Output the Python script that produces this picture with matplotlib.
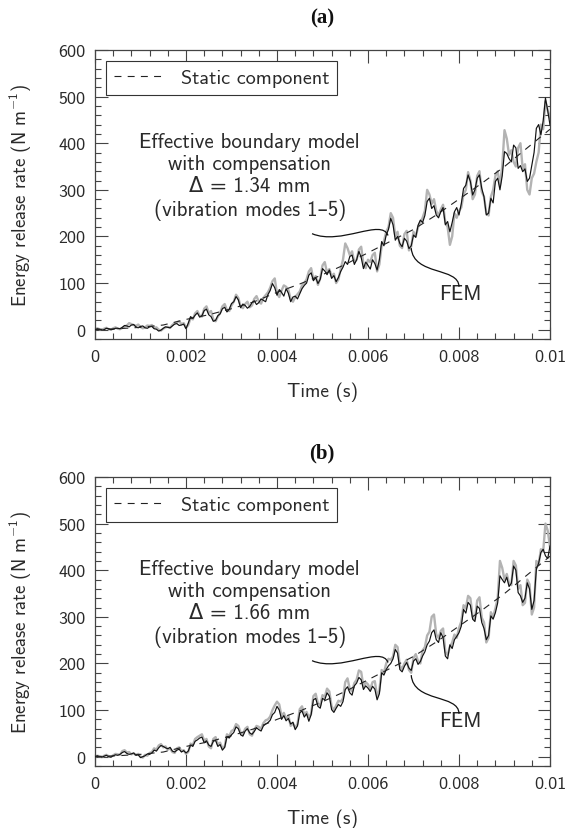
import numpy as np
import matplotlib
matplotlib.use('Agg')
from matplotlib import pyplot as plt
from matplotlib.path import Path
from matplotlib.patches import PathPatch
from matplotlib.ticker import MultipleLocator, FuncFormatter

plt.rcParams['font.family'] = ['cmss10', 'DejaVu Sans']
plt.rcParams['axes.unicode_minus'] = False
plt.rcParams['mathtext.fontset'] = 'custom'
plt.rcParams['mathtext.rm'] = 'cmss10'
plt.rcParams['mathtext.it'] = 'cmss10'
plt.rcParams['mathtext.sf'] = 'cmss10'
plt.rcParams['lines.scale_dashes'] = False

# time histories, 0 .. 0.01 s, N/m
# panel (a): effective boundary model (black) and FEM (grey)
model_a = [0, 2, 1, -1, 0, 3, 2, 0, 1, 3, 3, 2, 5, 9, 8, 6, 10, 11, 6, 4, 7, 8, 4, 3, 6, 7, 2, 1, -3, -1,
           3, 6, 5, 4, 8, 12, 13, 9, 10, 12, 2, 14, 28, 24, 31, 36, 27, 30, 41, 44, 32, 28, 18, 20, 30, 34,
           45, 48, 38, 44, 56, 60, 71, 64, 47, 55, 52, 46, 50, 58, 62, 54, 58, 66, 63, 60, 75, 84, 99, 90,
           74, 86, 80, 72, 88, 78, 60, 70, 72, 66, 77, 88, 95, 100, 117, 122, 105, 112, 99, 108, 131, 126,
           118, 128, 110, 116, 103, 112, 125, 134, 146, 140, 157, 160, 140, 150, 168, 155, 131, 145, 138,
           130, 150, 142, 128, 150, 189, 180, 203, 215, 239, 225, 192, 200, 185, 178, 196, 190, 174, 180,
           203, 198, 224, 235, 230, 245, 275, 282, 260, 266, 246, 240, 253, 262, 225, 232, 210, 230, 253,
           262, 246, 270, 303, 310, 332, 318, 289, 300, 325, 332, 303, 285, 246, 250, 282, 272, 318, 325,
           300, 330, 382, 378, 367, 360, 396, 390, 346, 352, 339, 345, 318, 325, 353, 380, 432, 440, 418,
           448, 497, 470, 439]
fem_a = [0, 3, 1, 0, 2, 4, 1, 0, 3, 5, 2, 1, 4, 7, 9, 14, 12, 10, 8, 11, 6, 3, 5, 9, 8, 10, 4, 5, 0, -2,
         2, 5, 6, 4, 10, 14, 16, 18, 12, 14, 4, 10, 25, 22, 35, 40, 30, 28, 45, 50, 36, 40, 22, 18, 28, 36,
         50, 55, 42, 40, 52, 60, 75, 68, 50, 46, 55, 60, 48, 52, 66, 72, 60, 56, 68, 74, 80, 90, 104, 110,
         78, 70, 84, 95, 92, 85, 66, 60, 70, 76, 82, 95, 100, 108, 125, 132, 108, 115, 96, 110, 138, 145,
         122, 130, 115, 120, 100, 108, 130, 150, 185, 175, 160, 168, 145, 150, 172, 178, 140, 132, 150,
         145, 160, 165, 125, 140, 180, 190, 210, 220, 250, 240, 200, 210, 180, 175, 205, 212, 170, 178,
         210, 200, 220, 230, 240, 255, 300, 290, 270, 280, 255, 245, 258, 268, 230, 220, 182, 200, 250,
         240, 255, 262, 290, 300, 338, 320, 280, 290, 330, 340, 296, 285, 250, 245, 285, 300, 330, 340,
         310, 350, 428, 410, 375, 385, 360, 350, 390, 400, 345, 355, 300, 290, 325, 335, 360, 380, 440,
         430, 490, 470, 455]

# panel (b)
model_b = [0, 2, 0, -1, 1, 3, 0, -1, 2, 4, 3, 5, 9, 11, 7, 5, 6, 8, 3, 4, -2, 0, 2, 6, 5, 8, 14, 12, 19,
           24, 22, 19, 17, 20, 12, 10, 14, 16, 10, 13, 8, 12, 25, 22, 33, 36, 40, 42, 30, 34, 25, 22, 33,
           35, 22, 26, 14, 20, 43, 40, 47, 52, 64, 60, 47, 44, 55, 60, 51, 48, 54, 62, 58, 55, 66, 70, 73,
           78, 90, 95, 108, 100, 80, 88, 77, 82, 70, 74, 58, 66, 94, 98, 85, 92, 76, 90, 122, 125, 108, 104,
           125, 122, 137, 130, 101, 95, 104, 112, 108, 118, 144, 150, 137, 132, 152, 158, 170, 165, 144,
           152, 147, 140, 151, 145, 122, 135, 180, 175, 187, 195, 200, 210, 230, 222, 187, 182, 194, 202,
           190, 185, 205, 210, 198, 204, 216, 225, 240, 248, 266, 272, 251, 245, 266, 255, 216, 210, 240,
           232, 251, 258, 266, 280, 316, 308, 331, 325, 295, 290, 323, 318, 288, 275, 251, 260, 302, 295,
           309, 330, 388, 380, 373, 385, 365, 372, 409, 400, 352, 345, 331, 340, 373, 360, 316, 335, 402,
           415, 438, 445, 431, 425, 452]
fem_b = [0, 2, 1, -1, 2, 4, 1, 0, 3, 6, 5, 4, 12, 14, 9, 10, 5, 7, 4, 6, 0, -2, 4, 2, 8, 10, 18, 15, 24,
         27, 20, 22, 15, 18, 10, 8, 18, 20, 12, 14, 6, 10, 28, 25, 38, 42, 45, 48, 34, 38, 22, 18, 38, 42,
         26, 30, 18, 22, 48, 44, 55, 58, 70, 66, 52, 48, 60, 64, 48, 45, 58, 66, 64, 60, 72, 78, 80, 86,
         100, 110, 118, 112, 86, 94, 82, 88, 66, 72, 62, 70, 102, 108, 90, 96, 84, 92, 130, 135, 114, 110,
         132, 128, 146, 140, 108, 100, 110, 120, 118, 125, 160, 168, 145, 140, 158, 165, 185, 182, 150,
         160, 155, 145, 160, 162, 130, 142, 186, 180, 200, 210, 208, 215, 240, 235, 195, 188, 200, 208,
         186, 180, 212, 220, 205, 200, 228, 235, 260, 268, 300, 305, 262, 255, 270, 275, 225, 218, 236,
         245, 262, 255, 276, 290, 325, 318, 345, 340, 300, 295, 335, 342, 298, 288, 245, 255, 310, 300,
         318, 340, 420, 405, 380, 392, 372, 368, 420, 410, 360, 368, 325, 330, 380, 370, 305, 320, 420,
         412, 445, 440, 500, 485, 450]

# static component (same in both panels)
static_t = [0, 0.0005, 0.001, 0.0015, 0.002, 0.0025, 0.003, 0.0035, 0.004, 0.0045, 0.005,
            0.0055, 0.006, 0.0065, 0.007, 0.0075, 0.008, 0.0085, 0.009, 0.0095, 0.01]
static_g = [0, 2, 5, 10, 22, 32, 45, 60, 80, 98, 118, 140, 165, 190, 215, 246, 280, 314, 350, 390, 430]

panels = [('(a)', '1.34', model_a, fem_a), ('(b)', '1.66', model_b, fem_b)]

W, H = 570, 829
fig = plt.figure(figsize=(W / 100, H / 100), dpi=100)
text_col = '#2a2a2a'
spine_col = '#444444'


def xfmt(x, pos):
    if abs(x) < 1e-12:
        return '0'
    return ('%.3f' % x).rstrip('0')


for k, (tag, delta, model, fem) in enumerate(panels):
    top = 51 + 427 * k
    ax = fig.add_axes([95 / W, 1 - (top + 289) / H, 455 / W, 289 / H])

    ax.plot(np.linspace(0, 0.01, len(fem)), fem, color='#b3b3b3', lw=1.7, zorder=2)
    ax.plot(np.linspace(0, 0.01, len(model)), model, color='#111111', lw=0.85, zorder=3)
    ax.plot(static_t, static_g, color='#222222', lw=0.8, dashes=(5, 4.5),
            zorder=4, label='Static component')

    ax.set_xlim(0, 0.01)
    ax.set_ylim(-20, 600)
    ax.xaxis.set_major_locator(MultipleLocator(0.002))
    ax.xaxis.set_minor_locator(MultipleLocator(0.0004))
    ax.yaxis.set_major_locator(MultipleLocator(100))
    ax.yaxis.set_minor_locator(MultipleLocator(20))
    ax.xaxis.set_major_formatter(FuncFormatter(xfmt))
    ax.tick_params(which='both', direction='in', top=True, right=True,
                   color=spine_col, width=0.8, labelsize=13, labelcolor=text_col)
    ax.tick_params(which='major', length=9, pad=7)
    ax.tick_params(which='minor', length=4.5)
    for s in ax.spines.values():
        s.set_color(spine_col)
        s.set_linewidth(0.9)

    ax.set_xlabel('Time (s)', fontsize=14, color=text_col, labelpad=13)
    ax.set_ylabel(r'Energy release rate (N m$^{-1}$)', fontsize=13.5,
                  color=text_col, labelpad=17)

    leg = ax.legend(loc='upper left', fontsize=14.5, handlelength=2.6,
                    fancybox=False, framealpha=1, borderaxespad=0.55,
                    borderpad=0.4, handletextpad=0.7)
    leg.get_frame().set_edgecolor('#333333')
    leg.get_frame().set_linewidth(0.8)
    for t in leg.get_texts():
        t.set_color(text_col)

    ax.text(0.0034, 329,
            'Effective boundary model\nwith compensation\n\u0394 = %s mm\n(vibration modes 1\u20135)' % delta,
            ha='center', va='center', fontsize=15, color=text_col, linespacing=1.2)
    ax.text(0.00802, 77, 'FEM', ha='center', va='center', fontsize=15, color=text_col)

    # leader curves
    lead_model = Path([(0.00477, 206), (0.0054, 180), (0.0063, 240), (0.00644, 202)],
                      [Path.MOVETO, Path.CURVE4, Path.CURVE4, Path.CURVE4])
    lead_fem = Path([(0.00695, 175), (0.0070, 115), (0.0080, 135), (0.0080, 92)],
                    [Path.MOVETO, Path.CURVE4, Path.CURVE4, Path.CURVE4])
    for p in (lead_model, lead_fem):
        ax.add_patch(PathPatch(p, facecolor='none', edgecolor='#111111', lw=0.9, zorder=5))

    title_y = 18 + 435 * k
    fig.text(322 / W, 1 - title_y / H, tag, ha='center', va='center',
             fontsize=15, fontweight='bold', family='Liberation Serif', color='#111111')

fig.savefig('out.png', dpi=100)
